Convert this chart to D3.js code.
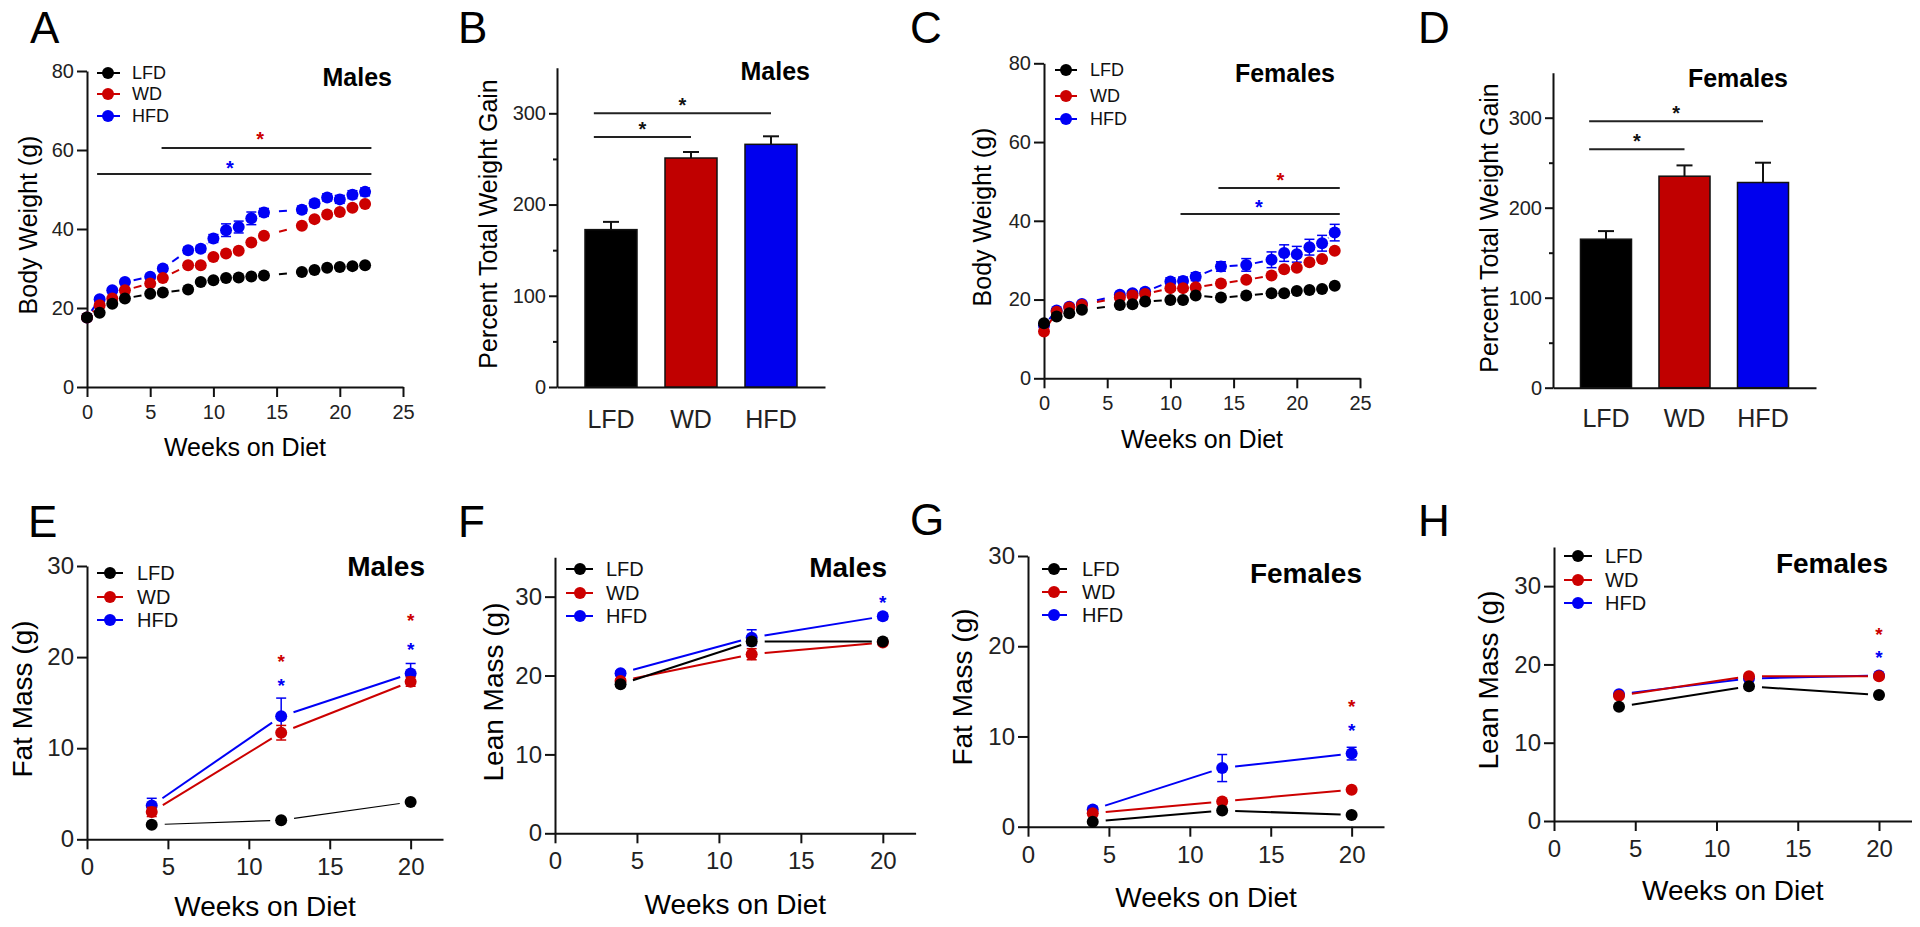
<!DOCTYPE html>
<html>
<head>
<meta charset="utf-8">
<script src="https://cdn.jsdelivr.net/npm/d3@7"></script>
<style>
  body { margin: 0; background: #fff; }
  .axis path, .axis line { stroke: #111; stroke-width: 2px; }
  .axis text { fill: #222; }
</style>
</head>
<body>
<div id="figure"></div>
<script>
var fontFamily = "'Liberation Sans', Arial, sans-serif";

// diet groups
var groups = ["LFD", "WD", "HFD"];
var groupColors = ["#000000", "#cc0000", "#0000f5"];
var barColors = ["#000000", "#c00000", "#0000ee"];

// A: male body weight over time
var weeksA = [0, 1, 2, 3, 5, 6, 8, 9, 10, 11, 12, 13, 14, 17, 18, 19, 20, 21, 22];
var lfdA = [17.6, 18.8, 21.1, 22.4, 23.6, 23.9, 24.7, 26.6, 27.0, 27.6, 27.7, 28.0, 28.2, 29.1, 29.6, 30.2, 30.4, 30.6, 30.8];
var wdA = [17.6, 20.7, 22.4, 24.5, 26.2, 27.6, 30.8, 30.8, 32.9, 33.8, 34.5, 36.6, 38.3, 40.8, 42.5, 43.7, 44.3, 45.4, 46.3];
var hfdA = [17.6, 22.2, 24.5, 26.6, 27.9, 30.0, 34.6, 35.0, 37.6, 39.7, 40.5, 42.7, 44.2, 44.9, 46.5, 48.0, 47.5, 48.7, 49.4];
var hfdErrA = [0, 0.5, 0.5, 0.6, 0.6, 0.7, 0.8, 0.8, 1.0, 1.6, 1.5, 1.6, 1.0, 0.9, 0.9, 0.9, 1.0, 1.0, 1.0];

// C: female body weight over time
var weeksC = [0, 1, 2, 3, 6, 7, 8, 10, 11, 12, 14, 16, 18, 19, 20, 21, 22, 23];
var lfdC = [14.0, 15.7, 16.5, 17.4, 18.6, 18.8, 19.5, 19.9, 19.9, 21.0, 20.5, 21.0, 21.6, 21.6, 22.2, 22.4, 22.7, 23.5];
var wdC = [11.9, 16.9, 18.0, 18.6, 20.5, 21.0, 21.4, 22.9, 22.9, 23.1, 24.1, 25.0, 26.1, 27.7, 28.1, 29.5, 30.3, 32.4];
var hfdC = [13.5, 17.2, 18.2, 18.9, 21.2, 21.6, 22.0, 24.6, 24.7, 25.8, 28.4, 28.8, 30.1, 31.8, 31.5, 33.3, 34.3, 37.0];
var hfdErrC = [0.3, 0.4, 0.4, 0.5, 0.6, 0.6, 0.7, 0.9, 1.0, 1.0, 1.2, 1.6, 2.0, 2.1, 2.0, 2.0, 2.0, 2.1];

// B, D: percent total weight gain
var gainMales = [172.5, 251, 266];
var gainMalesErr = [8.5, 6.6, 8.8];
var gainFemales = [165, 235, 228];
var gainFemalesErr = [9, 12, 22];

// E-H: body composition scans
var scanWeeks = [4, 12, 20];
var fatMalesLFD = [1.6, 2.1, 4.1];
var fatMalesWD = [3.0, 11.7, 17.3];
var fatMalesHFD = [3.7, 13.5, 18.2];
var fatMalesErrWD = [0.5, 0.8, 0.5];
var fatMalesErrHFD = [0.8, 2.0, 1.1];
var leanMalesLFD = [18.9, 24.3, 24.3];
var leanMalesWD = [19.3, 22.7, 24.2];
var leanMalesHFD = [20.3, 24.8, 27.5];
var leanMalesErrWD = [0.3, 0.7, 0.3];
var leanMalesErrHFD = [0.3, 1.0, 0.4];
var fatFemalesLFD = [0.55, 1.8, 1.3];
var fatFemalesWD = [1.5, 2.8, 4.1];
var fatFemalesHFD = [1.9, 6.5, 8.1];
var fatFemalesErrHFD = [0.3, 1.5, 0.7];
var leanFemalesLFD = [14.6, 17.2, 16.1];
var leanFemalesWD = [16.0, 18.5, 18.5];
var leanFemalesHFD = [16.2, 18.2, 18.6];

// significance marks (data units)
var sigA = [
  {group: "WD", from: 5.9, to: 22.5, level: 60.5, star: 13.7, starLevel: 64},
  {group: "HFD", from: 0.8, to: 22.5, level: 53.9, star: 11.3, starLevel: 56.5}
];
var sigC = [
  {group: "WD", from: 13.8, to: 23.4, level: 48.3, star: 18.7, starLevel: 51.6},
  {group: "HFD", from: 10.8, to: 23.4, level: 41.7, star: 17.0, starLevel: 44.7}
];
var sigB = [{from: "LFD", to: "WD", level: 274}, {from: "LFD", to: "HFD", level: 300}];
var sigD = [{from: "LFD", to: "WD", level: 265}, {from: "LFD", to: "HFD", level: 296}];
var starsE = [
  {group: "WD", week: 12, level: 20.0}, {group: "HFD", week: 12, level: 17.4},
  {group: "WD", week: 20, level: 24.5}, {group: "HFD", week: 20, level: 21.3}
];
var starsF = [{group: "HFD", week: 20, level: 29.8}];
var starsG = [{group: "WD", week: 20, level: 13.8}, {group: "HFD", week: 20, level: 11.1}];
var starsH = [{group: "WD", week: 20, level: 24.4}, {group: "HFD", week: 20, level: 21.5}];

var svg = d3.select("#figure")
  .append("svg")
  .attr("width", 1920)
  .attr("height", 927)
  .attr("font-family", fontFamily);

function colorOf(name) {
  return groupColors[groups.indexOf(name)];
}

function makeSeries(weeks, values, errs) {
  return weeks.map(function(w, i) {
    return {week: w, value: values[i], err: errs ? errs[i] : 0};
  });
}

// panel letter
function panelLetter(letter, x, y) {
  svg.append("text")
    .attr("x", x)
    .attr("y", y)
    .attr("font-size", 44)
    .text(letter);
}

function yTitle(text, x, y, size) {
  svg.append("text")
    .attr("transform", `translate(${x}, ${y}) rotate(-90)`)
    .attr("text-anchor", "middle")
    .attr("font-size", size)
    .text(text);
}

function sexLabel(text, x, y, size) {
  svg.append("text")
    .attr("x", x)
    .attr("y", y)
    .attr("text-anchor", "end")
    .attr("font-weight", "bold")
    .attr("font-size", size)
    .text(text);
}

function drawStar(g, cx, cy, color, size) {
  g.append("text")
    .attr("x", cx)
    .attr("y", cy + size * 0.575)
    .attr("text-anchor", "middle")
    .attr("font-size", size)
    .attr("font-weight", "bold")
    .attr("fill", color)
    .text("*");
}

// line + marker panel (A, C, E-H)
function linePanel(p) {
  var g = svg.append("g");
  var x = d3.scaleLinear().domain(p.xDomain).range(p.xRange);
  var y = d3.scaleLinear().domain(p.yDomain).range(p.yRange);
  var r = 6;

  var xAxis = g.append("g")
    .attr("class", "axis")
    .attr("transform", `translate(0, ${p.yRange[0]})`)
    .call(d3.axisBottom(x).tickValues(p.xTicks).tickSize(10).tickSizeOuter(0).tickPadding(p.xPad));
  xAxis.attr("font-family", fontFamily).selectAll("text").attr("font-size", p.tickFont);

  var yAxis = g.append("g")
    .attr("class", "axis")
    .attr("transform", `translate(${p.xRange[0]}, 0)`)
    .call(d3.axisLeft(y).tickValues(p.yTicks).tickSize(10).tickSizeOuter(0).tickPadding(p.yPad));
  yAxis.attr("font-family", fontFamily).selectAll("text").attr("font-size", p.tickFont);

  // significance lines
  (p.sigLines || []).forEach(function(s) {
    g.append("line")
      .attr("x1", x(s.from)).attr("x2", x(s.to))
      .attr("y1", y(s.level)).attr("y2", y(s.level))
      .attr("stroke", "#222").attr("stroke-width", 2);
    drawStar(g, x(s.star), y(s.starLevel), colorOf(s.group), p.starFont);
  });
  (p.stars || []).forEach(function(s) {
    drawStar(g, x(s.week), y(s.level), colorOf(s.group), p.starFont);
  });

  // HFD first so LFD ends up on top
  p.series.slice().reverse().forEach(function(s) {
    var color = colorOf(s.name);
    var pts = s.data.map(d => [x(d.week), y(d.value)]);

    var segs = d3.pairs(pts).map(function(pair) {
      var dx = pair[1][0] - pair[0][0];
      var dy = pair[1][1] - pair[0][1];
      var len = Math.sqrt(dx * dx + dy * dy);
      var ux = dx / len, uy = dy / len;
      var a, b;
      if (p.dashed) {
        var dash = Math.min(8, len - 2 * r - 4);
        if (dash <= 0) return null;
        a = len / 2 - dash / 2;
        b = len / 2 + dash / 2;
      } else {
        a = p.gapStart;
        b = len - p.gapEnd;
        if (b <= a) return null;
      }
      return [pair[0][0] + ux * a, pair[0][1] + uy * a, pair[0][0] + ux * b, pair[0][1] + uy * b];
    }).filter(d => d);

    g.selectAll(null)
      .data(segs)
      .enter()
      .append("line")
      .attr("x1", d => d[0]).attr("y1", d => d[1])
      .attr("x2", d => d[2]).attr("y2", d => d[3])
      .attr("stroke", color)
      .attr("stroke-width", s.name === "LFD" && p.thinLFD ? 1.2 : 2);

    // error bars
    var withErr = s.data.filter(d => d.err > 0);
    var eb = g.selectAll(null).data(withErr).enter().append("g").attr("stroke", color).attr("stroke-width", 1.5);
    eb.append("line")
      .attr("x1", d => x(d.week)).attr("x2", d => x(d.week))
      .attr("y1", d => y(d.value - d.err)).attr("y2", d => y(d.value + d.err));
    eb.append("line")
      .attr("x1", d => x(d.week) - 5).attr("x2", d => x(d.week) + 5)
      .attr("y1", d => y(d.value + d.err)).attr("y2", d => y(d.value + d.err));
    eb.append("line")
      .attr("x1", d => x(d.week) - 5).attr("x2", d => x(d.week) + 5)
      .attr("y1", d => y(d.value - d.err)).attr("y2", d => y(d.value - d.err));

    g.selectAll(null)
      .data(s.data)
      .enter()
      .append("circle")
      .attr("cx", d => x(d.week))
      .attr("cy", d => y(d.value))
      .attr("r", r)
      .attr("fill", color);
  });

  // legend
  var lg = p.legend;
  groups.forEach(function(name, i) {
    var ly = lg.rows[i];
    g.append("line")
      .attr("x1", lg.x0).attr("x2", lg.x1)
      .attr("y1", ly).attr("y2", ly)
      .attr("stroke", colorOf(name)).attr("stroke-width", 2);
    g.append("circle")
      .attr("cx", lg.cx).attr("cy", ly).attr("r", r)
      .attr("fill", colorOf(name));
    g.append("text")
      .attr("x", lg.tx).attr("y", ly)
      .attr("dy", "0.36em")
      .attr("font-size", p.legendFont)
      .attr("fill", "#111")
      .text(name);
  });

  // x title
  g.append("text")
    .attr("x", (p.xRange[0] + p.xRange[1]) / 2)
    .attr("y", p.xTitleY)
    .attr("text-anchor", "middle")
    .attr("font-size", p.titleFont)
    .text("Weeks on Diet");
}

// bar panel (B, D)
function barPanel(p) {
  var g = svg.append("g");
  var x = d3.scaleBand().domain(groups).range(p.xRange).padding(0.35);
  var y = d3.scaleLinear().domain([0, 350]).range(p.yRange);

  var xAxis = g.append("g")
    .attr("class", "axis")
    .attr("transform", `translate(0, ${p.yRange[0]})`)
    .call(d3.axisBottom(x).tickSize(0).tickSizeOuter(0).tickPadding(p.xPad));
  xAxis.attr("font-family", fontFamily).selectAll("text").attr("font-size", 25).attr("fill", "#111");

  var yAxis = g.append("g")
    .attr("class", "axis")
    .attr("transform", `translate(${p.xRange[0]}, 0)`)
    .call(d3.axisLeft(y).tickValues([0, 100, 200, 300]).tickSize(8).tickSizeOuter(0).tickPadding(3));
  yAxis.attr("font-family", fontFamily).selectAll("text").attr("font-size", 20);

  // minor ticks
  g.append("g")
    .attr("class", "axis")
    .attr("transform", `translate(${p.xRange[0]}, 0)`)
    .call(d3.axisLeft(y).tickValues([50, 150, 250]).tickSize(4).tickFormat(""))
    .select(".domain").remove();

  var data = groups.map(function(name, i) {
    return {name: name, value: p.values[i], err: p.errs[i], color: barColors[i]};
  });

  // error bars (upper only)
  var eb = g.selectAll(null).data(data).enter().append("g").attr("stroke", "#111").attr("stroke-width", 2);
  eb.append("line")
    .attr("x1", d => x(d.name) + x.bandwidth() / 2).attr("x2", d => x(d.name) + x.bandwidth() / 2)
    .attr("y1", d => y(d.value)).attr("y2", d => y(d.value + d.err));
  eb.append("line")
    .attr("x1", d => x(d.name) + x.bandwidth() / 2 - 8).attr("x2", d => x(d.name) + x.bandwidth() / 2 + 8)
    .attr("y1", d => y(d.value + d.err)).attr("y2", d => y(d.value + d.err));

  g.selectAll("rect")
    .data(data)
    .enter()
    .append("rect")
    .attr("x", d => x(d.name))
    .attr("y", d => y(d.value))
    .attr("width", x.bandwidth())
    .attr("height", d => y(0) - y(d.value))
    .attr("fill", d => d.color)
    .attr("stroke", "#111")
    .attr("stroke-width", 1.5);

  // significance brackets
  p.sig.forEach(function(s) {
    var x1 = x(s.from) + x.bandwidth() * 0.17;
    var x2 = x(s.to) + x.bandwidth() / 2;
    g.append("line")
      .attr("x1", x1).attr("x2", x2)
      .attr("y1", y(s.level)).attr("y2", y(s.level))
      .attr("stroke", "#222").attr("stroke-width", 2);
    drawStar(g, (x1 + x2) / 2, y(s.level) - 13, "#111", 20);
  });
}

var topRow = {tickFont: 20, titleFont: 25, legendFont: 18, starFont: 20, xPad: 8, yPad: 3};
var bottomRow = {tickFont: 24, titleFont: 28, legendFont: 20, starFont: 19, xPad: 9, yPad: 3,
  thinLFD: true, gapStart: 13, gapEnd: 11};

// A
linePanel(Object.assign({}, topRow, {
  xDomain: [0, 25], xRange: [87, 403], xTicks: [0, 5, 10, 15, 20, 25],
  yDomain: [0, 80], yRange: [387, 71], yTicks: [0, 20, 40, 60, 80],
  dashed: true, xTitleY: 456, sigLines: sigA,
  series: [
    {name: "LFD", data: makeSeries(weeksA, lfdA)},
    {name: "WD", data: makeSeries(weeksA, wdA)},
    {name: "HFD", data: makeSeries(weeksA, hfdA, hfdErrA)}
  ],
  legend: {x0: 97, x1: 120, cx: 108, tx: 132, rows: [73, 94, 116]}
}));
panelLetter("A", 30, 43);
yTitle("Body Weight (g)", 37, 225, 25);
sexLabel("Males", 392, 86, 25);

// B
barPanel({xRange: [557, 825], yRange: [387, 67.7], xPad: 23,
  values: gainMales, errs: gainMalesErr, sig: sigB});
panelLetter("B", 458, 43);
yTitle("Percent Total Weight Gain", 497, 224, 25);
sexLabel("Males", 810, 80, 25);

// C
linePanel(Object.assign({}, topRow, {
  xDomain: [0, 25], xRange: [1044, 1360], xTicks: [0, 5, 10, 15, 20, 25],
  yDomain: [0, 80], yRange: [378.3, 63.3], yTicks: [0, 20, 40, 60, 80],
  dashed: true, xTitleY: 448, sigLines: sigC,
  series: [
    {name: "LFD", data: makeSeries(weeksC, lfdC)},
    {name: "WD", data: makeSeries(weeksC, wdC)},
    {name: "HFD", data: makeSeries(weeksC, hfdC, hfdErrC)}
  ],
  legend: {x0: 1055, x1: 1077, cx: 1066, tx: 1090, rows: [70, 96, 119]}
}));
panelLetter("C", 910, 43);
yTitle("Body Weight (g)", 991, 217, 25);
sexLabel("Females", 1335, 82, 25);

// D
barPanel({xRange: [1553, 1816], yRange: [387.7, 72.7], xPad: 22,
  values: gainFemales, errs: gainFemalesErr, sig: sigD});
panelLetter("D", 1418, 43);
yTitle("Percent Total Weight Gain", 1498, 228, 25);
sexLabel("Females", 1788, 87, 25);

// E
linePanel(Object.assign({}, bottomRow, {
  xDomain: [0, 22], xRange: [87, 443], xTicks: [0, 5, 10, 15, 20],
  yDomain: [0, 30], yRange: [839.3, 566], yTicks: [0, 10, 20, 30],
  xTitleY: 916, stars: starsE,
  series: [
    {name: "LFD", data: makeSeries(scanWeeks, fatMalesLFD)},
    {name: "WD", data: makeSeries(scanWeeks, fatMalesWD, fatMalesErrWD)},
    {name: "HFD", data: makeSeries(scanWeeks, fatMalesHFD, fatMalesErrHFD)}
  ],
  legend: {x0: 97, x1: 123, cx: 110, tx: 137, rows: [573, 597, 620]}
}));
panelLetter("E", 28, 537);
yTitle("Fat Mass (g)", 32, 699, 28);
sexLabel("Males", 425, 576, 28);

// F
linePanel(Object.assign({}, bottomRow, {
  xDomain: [0, 22], xRange: [555, 915.6], xTicks: [0, 5, 10, 15, 20],
  yDomain: [0, 35], yRange: [833.3, 557.2], yTicks: [0, 10, 20, 30],
  xTitleY: 914, stars: starsF, thinLFD: false,
  series: [
    {name: "LFD", data: makeSeries(scanWeeks, leanMalesLFD)},
    {name: "WD", data: makeSeries(scanWeeks, leanMalesWD, leanMalesErrWD)},
    {name: "HFD", data: makeSeries(scanWeeks, leanMalesHFD, leanMalesErrHFD)}
  ],
  legend: {x0: 566, x1: 593, cx: 580, tx: 606, rows: [569, 593, 616]}
}));
panelLetter("F", 458, 537);
yTitle("Lean Mass (g)", 503, 692, 28);
sexLabel("Males", 887, 577, 28);

// G
linePanel(Object.assign({}, bottomRow, {
  xDomain: [0, 22], xRange: [1028, 1384], xTicks: [0, 5, 10, 15, 20],
  yDomain: [0, 30], yRange: [826.7, 556], yTicks: [0, 10, 20, 30],
  xTitleY: 907, stars: starsG, thinLFD: false,
  series: [
    {name: "LFD", data: makeSeries(scanWeeks, fatFemalesLFD)},
    {name: "WD", data: makeSeries(scanWeeks, fatFemalesWD)},
    {name: "HFD", data: makeSeries(scanWeeks, fatFemalesHFD, fatFemalesErrHFD)}
  ],
  legend: {x0: 1042, x1: 1067, cx: 1054, tx: 1082, rows: [569, 592, 615]}
}));
panelLetter("G", 910, 535);
yTitle("Fat Mass (g)", 972, 687, 28);
sexLabel("Females", 1362, 583, 28);

// H
linePanel(Object.assign({}, bottomRow, {
  xDomain: [0, 22], xRange: [1554, 1911.5], xTicks: [0, 5, 10, 15, 20],
  yDomain: [0, 35], yRange: [821, 547], yTicks: [0, 10, 20, 30],
  xTitleY: 900, stars: starsH, thinLFD: false,
  series: [
    {name: "LFD", data: makeSeries(scanWeeks, leanFemalesLFD)},
    {name: "WD", data: makeSeries(scanWeeks, leanFemalesWD)},
    {name: "HFD", data: makeSeries(scanWeeks, leanFemalesHFD)}
  ],
  legend: {x0: 1564, x1: 1592, cx: 1578, tx: 1605, rows: [556, 580, 603]}
}));
panelLetter("H", 1418, 536);
yTitle("Lean Mass (g)", 1498, 680, 28);
sexLabel("Females", 1888, 573, 28);
</script>
</body>
</html>
